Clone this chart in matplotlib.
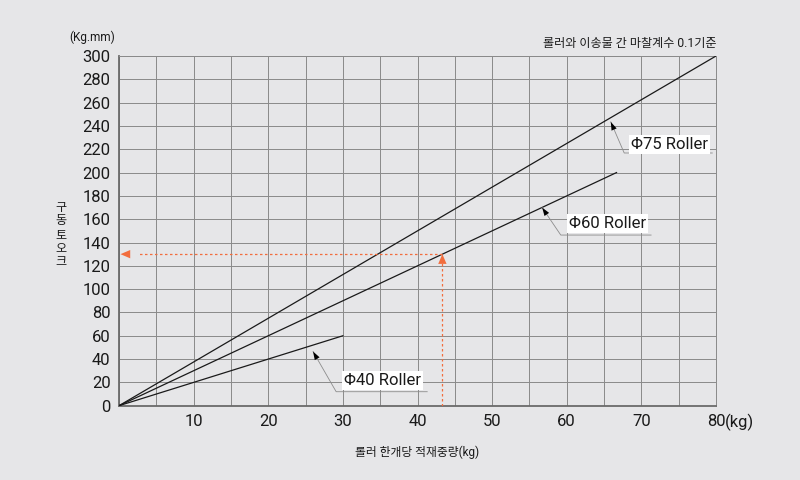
import matplotlib
matplotlib.use("Agg")
import matplotlib.pyplot as plt
import numpy as np

plt.rcParams['font.family'] = ['Roboto', 'Noto Sans CJK KR', 'DejaVu Sans']

# roller lines: end point (load kg, torque kg.mm), friction 0.1
roller_names = ["Φ40 Roller", "Φ60 Roller", "Φ75 Roller"]
roller_load_end = [30, 200 / 3, 80]
roller_torque_end = [60, 200, 300]

# worked example (orange)
example_load = 130 / 3
example_torque = 130

x_ticks = [10, 20, 30, 40, 50, 60, 70, 80]
y_ticks = list(range(0, 301, 20))

# annotation tip, bend, end of underline, text pos (data coords)
label_tips = [(26.0, 46.5), (56.7, 170.0), (65.9, 243.5)]
label_bends = [(29.1, 12.0), (59.2, 146.4), (67.7, 216.8)]
label_ends = [41.3, 71.3, 79.5]
label_pos = [(30.2, 22.0), (60.3, 156.0), (68.6, 224.5)]

BG = '#e6e6e8'
GRID = '#8a8a8a'
ORANGE = '#f26d3d'

fig = plt.figure(figsize=(8, 4.8), dpi=100, facecolor=BG)
ax = fig.add_axes([0.14875, 0.1548, 0.74625, 0.7285])
ax.set_facecolor(BG)

ax.set_xlim(0, 80)
ax.set_ylim(0, 300)
grid_x = np.arange(0, 81, 5)
ax.set_xticks(grid_x)
ax.set_yticks(y_ticks)
ax.grid(True, color=GRID, linewidth=0.7)
ax.set_axisbelow(True)
ax.tick_params(length=0, labelsize=12, colors='#1a1a1a')
ax.tick_params(axis='x', pad=6)
ax.tick_params(axis='y', pad=6)
ax.set_xticklabels([str(v) if v in x_ticks else "" for v in grid_x])
for s in ['top', 'right']:
    ax.spines[s].set_color(GRID)
    ax.spines[s].set_linewidth(0.7)
for s in ['left', 'bottom']:
    ax.spines[s].set_color('#6a6a6a')
    ax.spines[s].set_linewidth(1.3)

for xe, ye in zip(roller_load_end, roller_torque_end):
    ax.plot([0, xe], [0, ye], color='#1a1a1a', linewidth=0.9, zorder=3)

# orange example lines
ax.plot([example_load, example_load], [0, example_torque - 6], color=ORANGE,
        linestyle=(0, (2, 2)), linewidth=0.9, zorder=4)
ax.plot([example_load, 2.5], [example_torque, example_torque], color=ORANGE,
        linestyle=(0, (2, 2)), linewidth=0.9, zorder=4)
ax.annotate('', xy=(example_load, example_torque), xytext=(example_load, example_torque - 10),
            arrowprops=dict(arrowstyle='-|>,head_length=0.7,head_width=0.3',
                            color=ORANGE, lw=0, shrinkA=0, shrinkB=0), zorder=5)
ax.annotate('', xy=(0.2, example_torque), xytext=(2.7, example_torque),
            arrowprops=dict(arrowstyle='-|>,head_length=0.7,head_width=0.3',
                            color=ORANGE, lw=0, shrinkA=0, shrinkB=0), zorder=5)

# leader lines + labels
for name, tip, bend, xend, pos in zip(roller_names, label_tips, label_bends, label_ends, label_pos):
    ax.plot([xend, bend[0], tip[0]], [bend[1], bend[1], tip[1]],
            color='#8c8c8c', linewidth=0.6, zorder=4)
    start = (tip[0] + 0.25 * (bend[0] - tip[0]), tip[1] + 0.25 * (bend[1] - tip[1]))
    ax.annotate('', xy=tip, xytext=start,
                arrowprops=dict(arrowstyle='-|>,head_length=0.6,head_width=0.2',
                                color='black', lw=0, shrinkA=0, shrinkB=0), zorder=5)
    ax.text(pos[0], pos[1], name, fontsize=12, color='#1a1a1a', va='center', ha='left',
            bbox=dict(facecolor='white', edgecolor='none', pad=1.5), zorder=6)

# 80(kg) unit
ax.annotate('(kg)', xy=(80, 0), xytext=(6.5, -6), textcoords='offset points',
            ha='left', va='top', fontsize=12, color='#1a1a1a', annotation_clip=False)

fig.text(0.1150, 0.922, '(Kg.mm)', fontsize=8.5, ha='center', va='center', color='#1a1a1a')
fig.text(0.896, 0.910, '롤러와 이송물 간 마찰계수 0.1기준', fontsize=8.7, ha='right',
         va='center', color='#1a1a1a')
fig.text(0.0760, 0.512, '\n'.join('구동토오크'), fontsize=8.7, ha='center',
         va='center', linespacing=1.05, color='#1a1a1a')
fig.text(0.5215, 0.058, '롤러 한개당 적재중량(kg)', fontsize=8.5, ha='center',
         va='center', color='#1a1a1a')

fig.savefig('out.png', dpi=100, facecolor=BG)
